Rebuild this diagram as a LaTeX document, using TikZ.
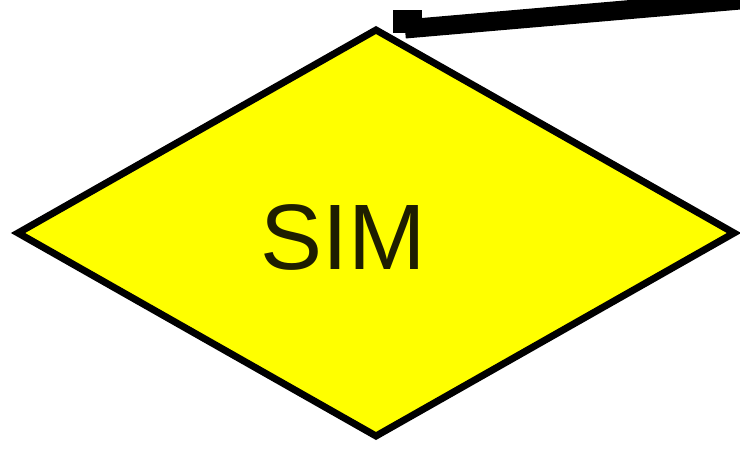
\documentclass[tikz,border=0pt]{standalone}
\usepackage{fontspec}
\setmainfont{Liberation Sans}
\usetikzlibrary{shapes.geometric}
\definecolor{fillyellow}{RGB}{255,255,0}
\definecolor{textdark}{RGB}{30,30,0}
\begin{document}
\begin{tikzpicture}[x=1pt,y=1pt,
  decision/.style={diamond, draw=black, line width=7pt, fill=fillyellow, inner sep=0pt, outer sep=0pt,
     minimum width=716pt, minimum height=406pt},
  conn/.style={draw=black, line width=19pt},
  lbl/.style={font=\fontsize{93}{93}\selectfont, text=textdark}]
\useasboundingbox (0,0) rectangle (740,459);
\node[decision] (d) at (376,226) {};
\node[lbl] (t) at (343,222) {SIM};
\coordinate (k1) at (407,426);
\coordinate (k2) at (407,449);
\coordinate (k3) at (405,430);
\coordinate (e) at (752,460);
\draw[line width=29pt] (k1) -- (k2);
\draw[conn] (k3) -- (e);
\end{tikzpicture}
\end{document}
